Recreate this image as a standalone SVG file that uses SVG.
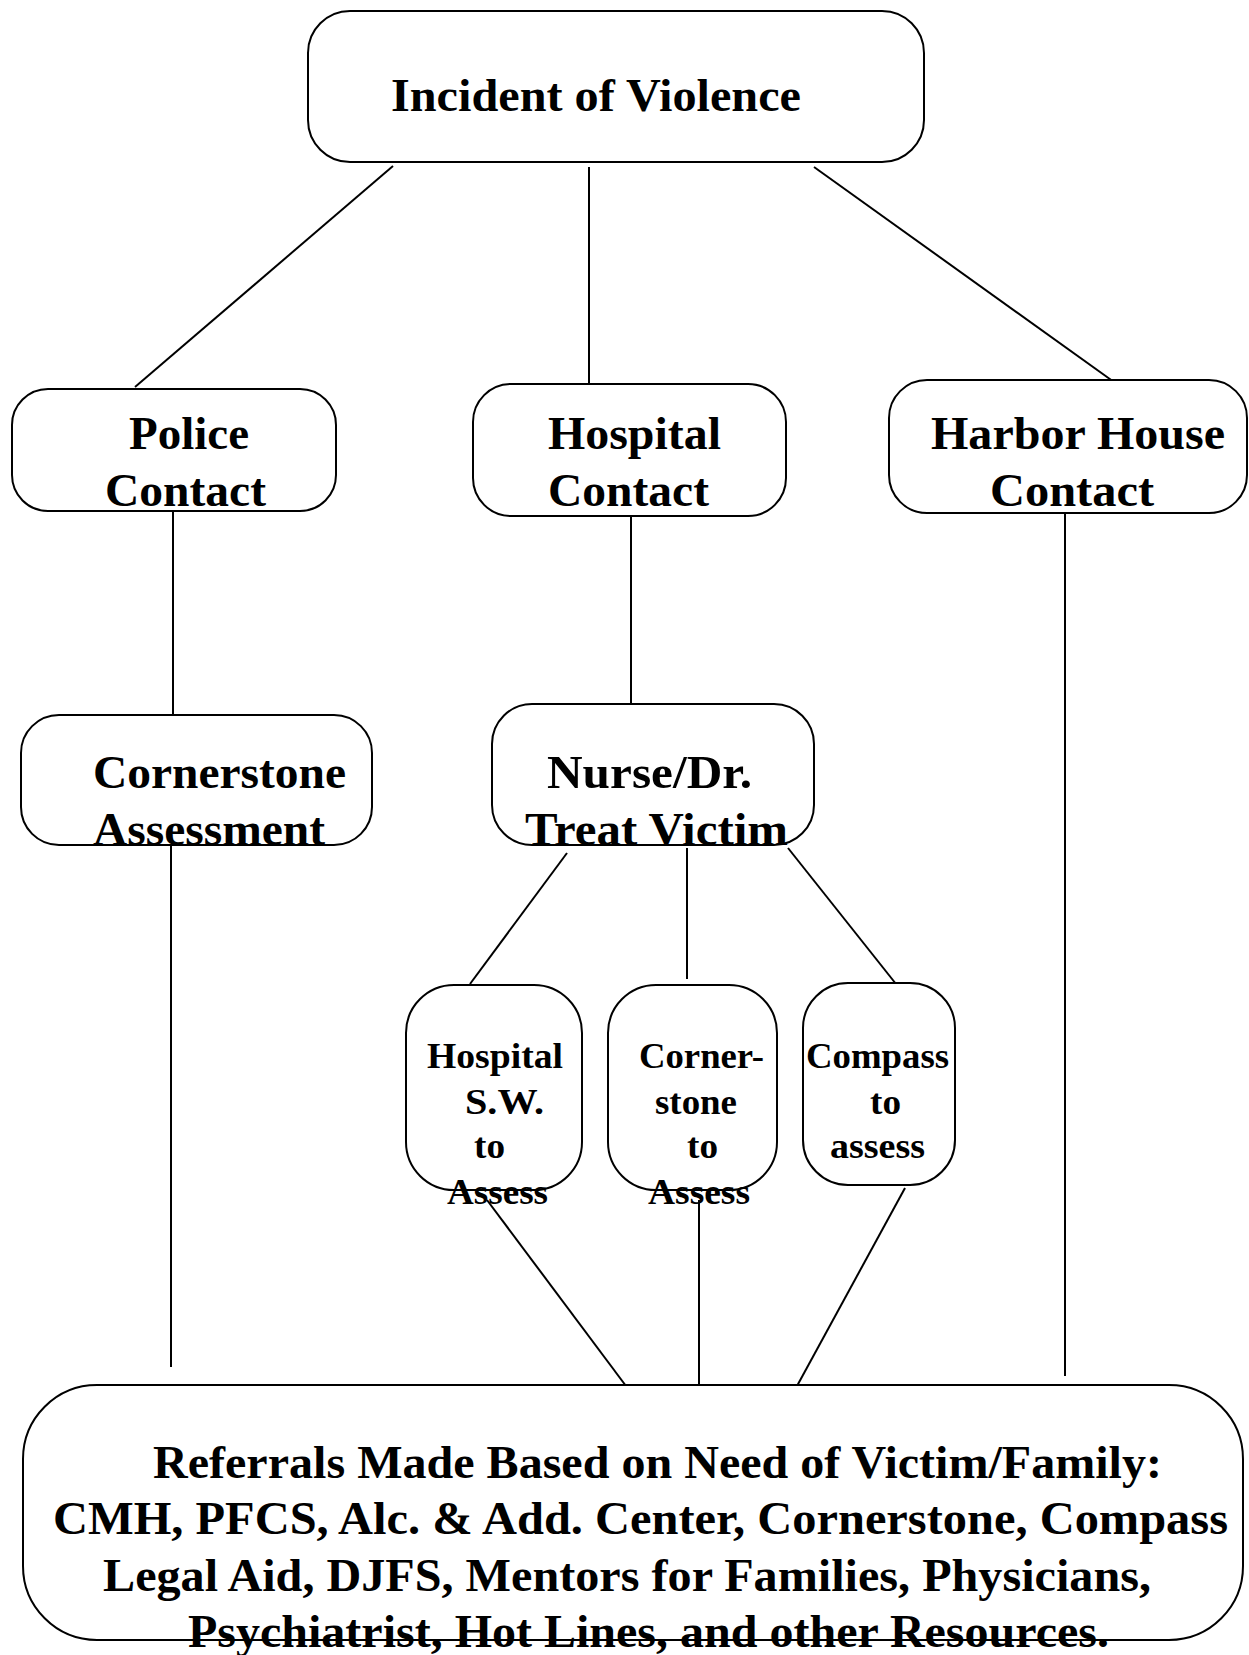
<svg xmlns="http://www.w3.org/2000/svg" width="1249" height="1655" viewBox="0 0 1249 1655">
<style>
.box{fill:#fff;stroke:#000;stroke-width:2}
.ln{stroke:#000;stroke-width:2;fill:none}
.t{font-family:"Liberation Serif","Times New Roman",serif;font-weight:bold;font-size:47px;fill:#000}
.s{font-family:"Liberation Serif","Times New Roman",serif;font-weight:bold;font-size:36px;fill:#000}
</style>
<rect width="1249" height="1655" fill="#fff"/>
<g id="connectors">
<line class="ln" x1="393" y1="166" x2="135" y2="387"/>
<line class="ln" x1="589" y1="167" x2="589" y2="387"/>
<line class="ln" x1="814" y1="167" x2="1114" y2="382"/>
<line class="ln" x1="173" y1="511" x2="173" y2="715"/>
<line class="ln" x1="631" y1="516" x2="631" y2="704"/>
<line class="ln" x1="1065" y1="513" x2="1065" y2="1376"/>
<line class="ln" x1="171" y1="845" x2="171" y2="1367"/>
<line class="ln" x1="567" y1="853" x2="470" y2="984"/>
<line class="ln" x1="687" y1="848" x2="687" y2="979"/>
<line class="ln" x1="788" y1="848" x2="900" y2="989"/>
<line class="ln" x1="487" y1="1200" x2="626" y2="1386"/>
<line class="ln" x1="699" y1="1200" x2="699" y2="1392"/>
<line class="ln" x1="905" y1="1188" x2="797" y2="1386"/>
</g>
<g id="incident">
<rect class="box" x="308" y="11" width="616" height="151" rx="42"/>
<text class="t" x="391" y="111" textLength="410" lengthAdjust="spacingAndGlyphs">Incident of Violence</text>
</g>
<g id="police">
<rect class="box" x="12" y="389" width="324" height="122" rx="36"/>
<text class="t" x="129" y="449" textLength="120" lengthAdjust="spacingAndGlyphs">Police</text>
<text class="t" x="105" y="506" textLength="161" lengthAdjust="spacingAndGlyphs">Contact</text>
</g>
<g id="hospital">
<rect class="box" x="473" y="384" width="313" height="132" rx="38"/>
<text class="t" x="548" y="449" textLength="173" lengthAdjust="spacingAndGlyphs">Hospital</text>
<text class="t" x="548" y="506" textLength="161" lengthAdjust="spacingAndGlyphs">Contact</text>
</g>
<g id="harbor">
<rect class="box" x="889" y="380" width="358" height="133" rx="38"/>
<text class="t" x="931" y="449" textLength="294" lengthAdjust="spacingAndGlyphs">Harbor House</text>
<text class="t" x="990" y="506" textLength="164" lengthAdjust="spacingAndGlyphs">Contact</text>
</g>
<g id="cornerstone-assessment">
<rect class="box" x="21" y="715" width="351" height="130" rx="38"/>
<text class="t" x="93" y="788" textLength="253" lengthAdjust="spacingAndGlyphs">Cornerstone</text>
<text class="t" x="93" y="845" textLength="232" lengthAdjust="spacingAndGlyphs">Assessment</text>
</g>
<g id="nurse">
<rect class="box" x="492" y="704" width="322" height="141" rx="40"/>
<text class="t" x="547" y="788" textLength="205" lengthAdjust="spacingAndGlyphs">Nurse/Dr.</text>
<text class="t" x="525" y="845" textLength="263" lengthAdjust="spacingAndGlyphs">Treat Victim</text>
</g>
<g id="hospital-sw">
<rect class="box" x="406" y="985" width="176" height="205" rx="48"/>
<text class="s" x="427" y="1068" textLength="136" lengthAdjust="spacingAndGlyphs">Hospital</text>
<text class="s" x="465" y="1114" textLength="79" lengthAdjust="spacingAndGlyphs">S.W.</text>
<text class="s" x="474" y="1158" textLength="31" lengthAdjust="spacingAndGlyphs">to</text>
<text class="s" x="447" y="1204" textLength="101" lengthAdjust="spacingAndGlyphs">Assess</text>
</g>
<g id="cornerstone-assess">
<rect class="box" x="608" y="985" width="169" height="205" rx="48"/>
<text class="s" x="639" y="1068" textLength="125" lengthAdjust="spacingAndGlyphs">Corner-</text>
<text class="s" x="655" y="1114" textLength="82" lengthAdjust="spacingAndGlyphs">stone</text>
<text class="s" x="687" y="1158" textLength="31" lengthAdjust="spacingAndGlyphs">to</text>
<text class="s" x="648" y="1204" textLength="102" lengthAdjust="spacingAndGlyphs">Assess</text>
</g>
<g id="compass">
<rect class="box" x="803" y="983" width="152" height="202" rx="45"/>
<text class="s" x="806" y="1068" textLength="143" lengthAdjust="spacingAndGlyphs">Compass</text>
<text class="s" x="870" y="1114" textLength="31" lengthAdjust="spacingAndGlyphs">to</text>
<text class="s" x="830" y="1158" textLength="95" lengthAdjust="spacingAndGlyphs">assess</text>
</g>
<g id="referrals">
<rect class="box" x="23" y="1385" width="1220" height="255" rx="74"/>
<text class="t" x="153" y="1478" textLength="1009" lengthAdjust="spacingAndGlyphs">Referrals Made Based on Need of Victim/Family:</text>
<text class="t" x="53" y="1534" textLength="1175" lengthAdjust="spacingAndGlyphs">CMH, PFCS, Alc. &amp; Add. Center, Cornerstone, Compass</text>
<text class="t" x="103" y="1591" textLength="1048" lengthAdjust="spacingAndGlyphs">Legal Aid, DJFS, Mentors for Families, Physicians,</text>
<text class="t" x="188" y="1647" textLength="921" lengthAdjust="spacingAndGlyphs">Psychiatrist, Hot Lines, and other Resources.</text>
</g>
</svg>
